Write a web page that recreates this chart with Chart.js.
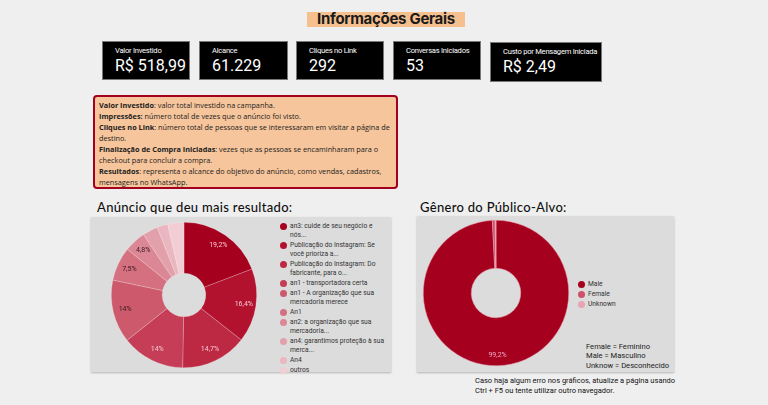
<!DOCTYPE html>
<html lang="pt-BR">
<head>
<meta charset="UTF-8">
<title>Informações Gerais</title>
<style>
  body{margin:0;width:768px;height:405px;background:#efefef;font-family:Roboto,"Noto Sans",sans-serif;position:relative;overflow:hidden}
  .abs{position:absolute}
  #titulo{left:307px;top:12px;width:158px;height:15px;background:#f6c08e}
  #titulo span{position:absolute;left:0;right:0;top:-3px;text-align:center;font:700 15px Inter,Roboto,sans-serif;color:#1a1a1a;letter-spacing:-0.3px}
  .kpi{background:#000;border:1px solid #777;color:#fff;box-sizing:border-box}
  .kpi .lb{position:absolute;left:12px;top:4px;font-size:7.6px;letter-spacing:-0.25px;white-space:nowrap}
  .kpi .vl{position:absolute;left:12px;top:14px;font-size:16px}
  #info{left:93px;top:95px;width:305px;height:94px;box-sizing:border-box;background:#f6c59b;border:2px solid #a3001f;border-radius:4px;
        font:7.3px "Open Sans",sans-serif;line-height:11px;color:#222;padding:3px 4px;overflow:hidden;white-space:nowrap}
  #info b{font-weight:700}
  .sec{font:500 13px Lato,"Open Sans",sans-serif;color:#111;letter-spacing:0.3px}
  .painel{background:#dcdcdc;box-shadow:0 1px 2px rgba(0,0,0,.25)}
  .leg{font-size:6.7px;color:#333;line-height:9px}
  .leg .it{position:relative;padding-left:10px;margin-bottom:1px}
  .leg .dot{position:absolute;left:0;top:1px;width:7px;height:7px;border-radius:50%}
  #notas{left:586px;top:342px;font-size:7.6px;line-height:9.3px;color:#222}
  #rodape{left:475px;top:376px;font-size:7.5px;line-height:10px;color:#111}
</style>
</head>
<body>
<div id="titulo" class="abs"><span>Informações Gerais</span></div>
<div id="kpis"></div>
<div id="info" class="abs">
<b>Valor Investido</b>: valor total investido na campanha.<br>
<b>Impressões:</b> número total de vezes que o anúncio foi visto.<br>
<b>Cliques no Link</b>: número total de pessoas que se interessaram em visitar a página de<br>
destino.<br>
<b>Finalização de Compra Iniciadas</b>: vezes que as pessoas se encaminharam para o<br>
checkout para concluir a compra.<br>
<b>Resultados</b>: representa o alcance do objetivo do anúncio, como vendas, cadastros,<br>
mensagens no WhatsApp.
</div>

<div class="abs sec" style="left:97px;top:199px">Anúncio que deu mais resultado:</div>
<div class="abs painel" style="left:91px;top:217px;width:300px;height:155px"></div>
<div class="abs" style="left:109px;top:220px;width:150px;height:150px"><canvas id="pizza1"></canvas></div>
<div id="leg1" class="abs leg" style="left:280px;top:222px;width:110px"></div>

<div class="abs sec" style="left:420px;top:199px">Gênero do Público-Alvo:</div>
<div class="abs painel" style="left:417px;top:216px;width:257px;height:156px"></div>
<div class="abs" style="left:421px;top:218px;width:150px;height:150px"><canvas id="pizza2"></canvas></div>
<div id="leg2" class="abs leg" style="left:578px;top:280px;width:80px"></div>
<div id="notas" class="abs">Female = Feminino<br>Male = Masculino<br>Unknow = Desconhecido</div>

<div id="rodape" class="abs">Caso haja algum erro nos gráficos, atualize a página usando<br>Ctrl + F5 ou tente utilizar outro navegador.</div>

<script src="https://cdn.jsdelivr.net/npm/chart.js@4.4.0"></script>
<script>
/* ---------- Dados ---------- */
const kpiNomes   = ['Valor Investido','Alcance','Cliques no Link','Conversas Iniciados','Custo por Mensagem Iniciada'];
const kpiValores = ['R$ 518,99','61.229','292','53','R$ 2,49'];

const anuncios = [
  'an3: cuide de seu negócio e\nnós...',
  'Publicação do Instagram: Se\nvocê prioriza a...',
  'Publicação do Instagram: Do\nfabricante, para o...',
  'an1 - transportadora certa',
  'an1 - A organização que sua\nmercadoria merece',
  'An1',
  'an2: a organização que sua\nmercadoria...',
  'an4: garantimos proteção à sua\nmerca...',
  'An4',
  'outros'
];
const anunciosPct = [19.2, 16.4, 14.7, 14, 14, 7.5, 4.8, 3.4, 2.4, 3.6];

const generos    = ['Male','Female','Unknown'];
const generosPct = [99.2, 0.6, 0.2];

/* ---------- Cores ---------- */
const cores1 = ['#a6001f','#b3122f','#bd2843','#c53d56','#cd5a6c','#d4707f','#db8795','#e2a0ab','#eab6bf','#f2cdd3'];
const txt1   = ['#f7c7d3','#f7c7d3','#f7c7d3','#f7c7d3','#3a1a20','#3a1a20','#3a1a20',null,null,null];
const cores2 = ['#a6001f','#cf5068','#e9a3b1'];

/* ---------- KPIs ---------- */
const kpiPos = [[102,41,88,39],[199,41,89,39],[296,41,88,39],[393,41,88,39],[490,42,112,40]];
const kpiWrap = document.getElementById('kpis');
kpiNomes.forEach((n,i)=>{
  const [x,y,w,h] = kpiPos[i];
  const d = document.createElement('div');
  d.className='abs kpi';
  d.style.cssText=`left:${x}px;top:${y}px;width:${w}px;height:${h}px`;
  d.innerHTML=`<div class="lb">${n}</div><div class="vl">${kpiValores[i]}</div>`;
  kpiWrap.appendChild(d);
});

/* ---------- Rótulos dentro das fatias ---------- */
const rotulos = {
  id:'rotulos',
  afterDatasetsDraw(chart, args, opts){
    const ctx = chart.ctx, ds = chart.data.datasets[0];
    chart.getDatasetMeta(0).data.forEach((arc,i)=>{
      const cor = opts.cores[i];
      if(!cor) return;
      const {x,y,startAngle,endAngle,innerRadius,outerRadius} = arc.getProps(['x','y','startAngle','endAngle','innerRadius','outerRadius'], true);
      const a = (startAngle+endAngle)/2;
      const r = innerRadius + (opts.f||0.5)*(outerRadius-innerRadius);
      ctx.save();
      ctx.font = '7px Roboto, sans-serif';
      ctx.fillStyle = cor;
      ctx.textAlign='center'; ctx.textBaseline='middle';
      ctx.fillText(String(ds.data[i]).replace('.',',')+'%', x+Math.cos(a)*r, y+Math.sin(a)*r);
      ctx.restore();
    });
  }
};

function legenda(el, nomes, cores){
  const box = document.getElementById(el);
  nomes.forEach((n,i)=>{
    const it = document.createElement('div');
    it.className='it';
    it.innerHTML=`<span class="dot" style="background:${cores[i]}"></span>${n.replace('\n','<br>')}`;
    box.appendChild(it);
  });
}

const base = {responsive:true, maintainAspectRatio:false, animation:false, layout:{padding:2}};

new Chart(document.getElementById('pizza1'),{
  type:'doughnut',
  data:{labels:anuncios, datasets:[{data:anunciosPct, backgroundColor:cores1, borderColor:'rgba(255,255,255,0.35)', borderWidth:0.6}]},
  options:Object.assign({}, base, {cutout:'30%',
    plugins:{legend:{display:false}, tooltip:{enabled:false}, rotulos:{cores:txt1, f:0.76}}}),
  plugins:[rotulos]
});
legenda('leg1', anuncios, cores1);

new Chart(document.getElementById('pizza2'),{
  type:'doughnut',
  data:{labels:generos, datasets:[{data:generosPct, backgroundColor:cores2, borderColor:'#e9a3b1', borderWidth:0.5}]},
  options:Object.assign({}, base, {cutout:'34%',
    plugins:{legend:{display:false}, tooltip:{enabled:false}, rotulos:{cores:['#f0a6c4',null,null], f:0.79}}}),
  plugins:[rotulos]
});
legenda('leg2', generos, cores2);
</script>
</body>
</html>
